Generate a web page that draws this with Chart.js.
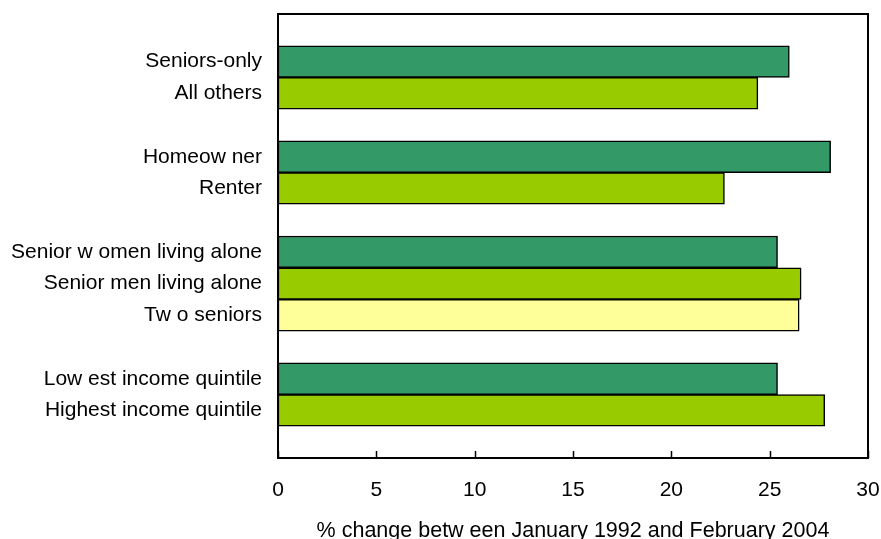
<!DOCTYPE html>
<html>
<head>
<meta charset="utf-8">
<script src="https://cdn.jsdelivr.net/npm/chart.js@4/dist/chart.umd.min.js"></script>
<style>
    html, body { margin: 0; padding: 0; background: #fff; }
    #wrap { width: 881px; height: 539px; }
</style>
</head>
<body>
<div id="wrap"><canvas id="chart"></canvas></div>
<script>
// blank entries keep the gaps between the groups
const categories = [
    '',
    'Seniors-only', 'All others',
    '',
    'Homeow ner', 'Renter',
    '',
    'Senior w omen living alone', 'Senior men living alone', 'Tw o seniors',
    '',
    'Low est income quintile', 'Highest income quintile',
    ''
];
const values = [null, 26.0, 24.4, null, 28.1, 22.7, null, 25.4, 26.6, 26.5, null, 25.4, 27.8, null];
const barColors = ['#fff', '#339966', '#99cc00', '#fff', '#339966', '#99cc00', '#fff',
    '#339966', '#99cc00', '#ffff99', '#fff', '#339966', '#99cc00', '#fff'];
const xTicks = [0, 5, 10, 15, 20, 25, 30];
const xTitle = '% change betw een January 1992 and February 2004';

const FONT = 'Liberation Sans, Arial, sans-serif';

// frame round the plot and the inward tick marks on the x axis
const framePlugin = {
    id: 'frame',
    afterDraw(chart) {
        const { ctx, chartArea: a } = chart;
        const x = chart.scales.x;
        ctx.save();
        ctx.strokeStyle = '#000';
        ctx.lineWidth = 2;
        ctx.strokeRect(a.left, a.top, a.right - a.left, a.bottom - a.top);
        ctx.beginPath();
        xTicks.forEach(v => {
            const px = Math.round(x.getPixelForValue(v)) + 0.5;
            ctx.moveTo(px, a.bottom);
            ctx.lineTo(px, a.bottom - 7);
        });
        ctx.lineWidth = 1.5;
        ctx.stroke();
        ctx.restore();
    }
};

new Chart(document.getElementById('chart'), {
    type: 'bar',
    data: {
        labels: categories,
        datasets: [{
            data: values,
            backgroundColor: barColors,
            borderColor: '#000',
            borderWidth: 1.5,
            borderSkipped: false,
            barPercentage: 1,
            categoryPercentage: 1
        }]
    },
    options: {
        indexAxis: 'y',
        responsive: true,
        maintainAspectRatio: false,
        animation: false,
        layout: { padding: { top: 14, right: 13, left: 0, bottom: 0 } },
        plugins: {
            legend: { display: false },
            tooltip: { enabled: false }
        },
        scales: {
            x: {
                min: 0,
                max: 30,
                afterFit(scale) {
                    scale.height = 81;
                    scale.paddingLeft = 0;
                    scale.paddingRight = 0;
                },
                afterBuildTicks(scale) { scale.ticks = xTicks.map(v => ({ value: v })); },
                grid: { display: false, drawTicks: false },
                border: { display: false },
                ticks: {
                    color: '#000',
                    padding: 20,
                    font: { family: FONT, size: 21 }
                },
                title: {
                    display: true,
                    text: xTitle,
                    color: '#000',
                    padding: { top: 6, bottom: -5 },
                    font: { family: FONT, size: 21.5 }
                }
            },
            y: {
                afterFit(scale) {
                    scale.width = 278;
                    scale.paddingTop = 0;
                    scale.paddingBottom = 0;
                },
                grid: { display: false, drawTicks: false },
                border: { display: false },
                ticks: {
                    color: '#000',
                    padding: 16,
                    autoSkip: false,
                    font: { family: FONT, size: 21 }
                }
            }
        }
    },
    plugins: [framePlugin]
});
</script>
</body>
</html>
